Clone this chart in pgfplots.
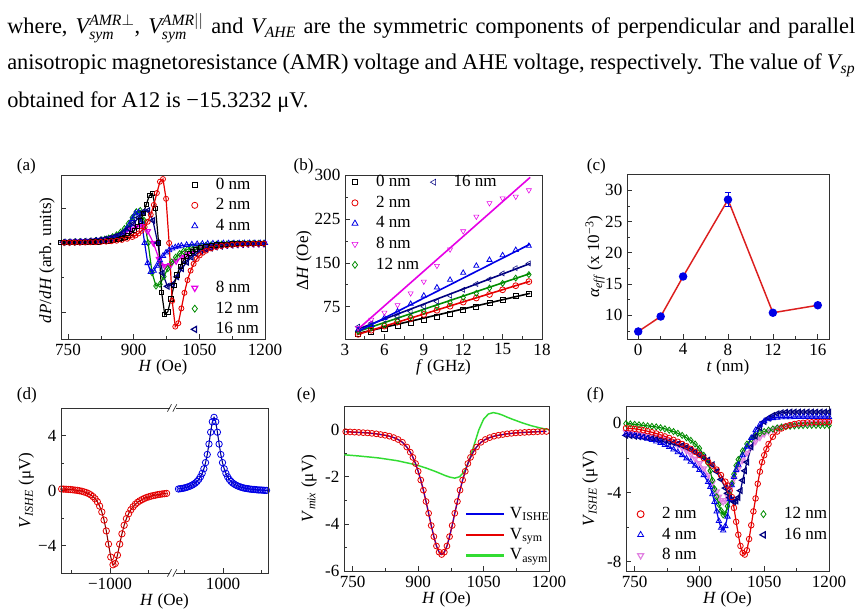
\documentclass[border=0pt]{standalone}
\usepackage{fontspec}
\setmainfont{Liberation Serif}
\newfontfamily\bodyfont{Liberation Serif}
\usepackage{pgfplots}
\usepackage{pgfplotstable}
\pgfplotsset{compat=1.18}
\definecolor{cred}{RGB}{230,0,0}
\definecolor{cblue}{RGB}{0,0,230}
\definecolor{cmag}{RGB}{230,0,230}
\definecolor{cgreen}{RGB}{0,140,0}
\definecolor{cnavy}{RGB}{0,0,128}
\definecolor{clgreen}{RGB}{50,220,50}
\definecolor{cviolet}{RGB}{225,130,225}
\definecolor{cframe}{RGB}{50,50,50}
\definecolor{cline}{RGB}{220,30,30}
\newcommand{\pf}{\fontsize{12.8}{15}\selectfont}

\pgfplotsset{
  panel/.style={
    scale only axis,
    axis line style={cframe, line width=0.6pt},
    every tick/.style={cframe, line width=0.5pt},
    tick align=inside,
    tick pos=left,
    major tick length=3.5pt,
    minor tick length=2pt,
    /pgf/number format/assume math mode=true,
    /pgf/number format/1000 sep={},
    tick label style={font=\pf},
    label style={font=\pf},
    xlabel style={at={(axis description cs:0.5,0)}, anchor=base, yshift=-24.5pt},
    legend style={font=\pf, draw=none, fill=none, inner sep=0pt, outer sep=0pt, anchor=north west, row sep=1pt,
      nodes={inner sep=1.5pt, text height=9pt, text depth=2.5pt},
      /tikz/every odd column/.append style={column sep=12pt}},
    legend cell align=left,
  },
}

% ---------- panel (d) data ----------
\pgfplotstableread{
H V
-1628 0.11
-1599 0.10
-1570 0.09
-1541 0.08
-1512 0.07
-1483 0.05
-1454 0.03
-1425 0.01
-1396 -0.02
-1367 -0.05
-1338 -0.10
-1309 -0.15
-1280 -0.22
-1251 -0.31
-1222 -0.44
-1193 -0.60
-1164 -0.82
-1135 -1.13
-1106 -1.56
-1077 -2.15
-1048 -2.94
-1019 -3.90
-990 -4.84
-961 -5.40
-932 -5.31
-903 -4.70
-874 -3.90
-845 -3.15
-816 -2.53
-787 -2.05
-758 -1.69
-729 -1.40
-700 -1.18
-671 -1.00
-642 -0.86
-613 -0.75
-584 -0.66
-555 -0.58
-526 -0.51
-497 -0.46
-468 -0.41
-439 -0.37
-410 -0.34
-381 -0.30
-352 -0.28
-323 -0.25
-294 -0.23
-265 -0.21
}\dred
\pgfplotstableread{
H V
421 0.11
443 0.13
465 0.15
487 0.17
509 0.20
531 0.24
553 0.28
575 0.33
597 0.39
619 0.46
641 0.55
663 0.66
685 0.81
707 1.00
729 1.25
751 1.58
773 2.03
795 2.62
817 3.38
839 4.24
861 5.00
883 5.32
905 5.00
927 4.24
949 3.38
971 2.62
993 2.03
1015 1.58
1037 1.25
1059 1.00
1081 0.81
1103 0.66
1125 0.55
1147 0.46
1169 0.39
1191 0.33
1213 0.28
1235 0.24
1257 0.20
1279 0.17
1301 0.15
1323 0.13
1345 0.11
1367 0.09
1389 0.08
1411 0.07
1433 0.06
1455 0.04
1477 0.04
1499 0.03
1521 0.02
1543 0.01
1565 0.01
1587 0.00
}\dblue
% ---------- panel (e) data ----------
\pgfplotstableread{
H V
734 -0.09
744 -0.10
754 -0.11
764 -0.12
774 -0.13
784 -0.14
794 -0.16
804 -0.18
814 -0.21
824 -0.24
834 -0.28
844 -0.34
854 -0.42
864 -0.54
874 -0.74
882 -0.96
888 -1.18
894 -1.44
900 -1.77
906 -2.14
912 -2.57
918 -3.05
924 -3.55
930 -4.07
936 -4.54
942 -4.94
948 -5.20
954 -5.30
960 -5.20
966 -4.94
972 -4.54
978 -4.07
984 -3.55
990 -3.05
996 -2.57
1002 -2.14
1008 -1.77
1014 -1.44
1020 -1.18
1026 -0.96
1034 -0.74
1044 -0.54
1054 -0.42
1064 -0.34
1074 -0.28
1084 -0.24
1094 -0.21
1104 -0.18
1114 -0.16
1124 -0.14
1134 -0.13
1144 -0.12
1154 -0.11
1164 -0.10
1174 -0.09
1184 -0.08
1194 -0.08
}\esym

\begin{document}
\begin{tikzpicture}
\fill[white] (0,0) rectangle (645pt,461.25pt);
\path[use as bounding box] (0,0) rectangle (645pt,461.25pt);

% ---------- body text ----------
\node[anchor=base west, inner sep=0pt] at (5.25pt,435.75pt) {\bodyfont\fontsize{16.8}{20}\selectfont\makebox[636pt][s]{where, $\mathit{V}_{\mathit{sym}}^{\mathit{AMR}\perp}$, $\mathit{V}_{\mathit{sym}}^{\mathit{AMR}||}$ and $\mathit{V}_{\mathit{AHE}}$ are the symmetric components of perpendicular and parallel}};
\node[anchor=base west, inner sep=0pt] at (5.25pt,408.75pt) {\bodyfont\fontsize{16.8}{20}\selectfont\makebox[636pt][s]{anisotropic magnetoresistance (AMR) voltage and AHE voltage, respectively. The value of $\mathit{V}_{\mathit{sp}}$}};
\node[anchor=base west, inner sep=0pt] at (5.25pt,380.25pt) {\bodyfont\fontsize{16.8}{20}\selectfont obtained for A12 is −15.3232 μV.};

% ---------- panel labels ----------
\node[anchor=base west, inner sep=0pt, font=\pf] at (12.5pt,333pt) {(a)};
\node[anchor=base west, inner sep=0pt, font=\pf] at (220pt,333pt) {(b)};
\node[anchor=base west, inner sep=0pt, font=\pf] at (440pt,333pt) {(c)};
\node[anchor=base west, inner sep=0pt, font=\pf] at (12.5pt,162pt) {(d)};
\node[anchor=base west, inner sep=0pt, font=\pf] at (222.5pt,162pt) {(e)};
\node[anchor=base west, inner sep=0pt, font=\pf] at (440pt,162pt) {(f)};

% ================= (a) =================
\begin{axis}[panel, at={(45.75pt,207pt)}, anchor=south west, width=153pt, height=123pt,
  xmin=734, xmax=1200, ymin=-2.77, ymax=1.96,
  xtick={750,900,1050,1200}, minor xtick={825,975,1125},
  ytick={-2,1}, yticklabels={}, minor ytick={-1,0},
  xlabel={\textit{H} (Oe)}, ylabel={\textit{dP}/\textit{dH} (arb. units)},
  ylabel style={at={(axis description cs:-0.069,0.48)}, anchor=center},
  legend style={at={(axis description cs:0.6,1)}},
  every axis plot/.append style={line width=0.9pt, mark options={solid, line width=0.6pt}},
]
\addplot[cmag, mark=triangle, mark size=2.3pt, mark options={rotate=180}, forget plot] coordinates {(741,0.023) (753,0.027) (765,0.032) (777,0.038) (789,0.046) (802,0.058) (815,0.073) (828,0.094) (841,0.123) (854,0.163) (867,0.219) (880,0.294) (893,0.385) (906,0.473) (919,0.493) (932,0.341) (945,0) (958,-0.464) (971,-0.670) (984,-0.643) (997,-0.524) (1010,-0.399) (1023,-0.297) (1036,-0.222) (1049,-0.167) (1062,-0.128) (1075,-0.099) (1088,-0.078) (1101,-0.063) (1113,-0.052) (1125,-0.043) (1137,-0.036) (1149,-0.031) (1161,-0.026) (1173,-0.023) (1185,-0.020) (1197,-0.017)};
\addplot[cgreen, mark=diamond, mark size=2.3pt, forget plot] coordinates {(741,0.018) (753,0.022) (765,0.026) (777,0.032) (789,0.041) (801,0.051) (813,0.066) (825,0.087) (834,0.109) (843,0.139) (852,0.179) (861,0.234) (870,0.310) (879,0.415) (888,0.558) (897,0.732) (906,0.898) (915,0.936) (924,0.648) (933,0) (942,-0.859) (951,-1.241) (960,-1.191) (969,-0.970) (978,-0.740) (987,-0.551) (996,-0.411) (1005,-0.310) (1014,-0.237) (1023,-0.184) (1032,-0.145) (1041,-0.116) (1053,-0.088) (1065,-0.068) (1077,-0.054) (1089,-0.043) (1101,-0.035) (1113,-0.029) (1125,-0.024) (1137,-0.020) (1149,-0.017) (1161,-0.014) (1173,-0.012) (1185,-0.011) (1197,-0.010)};
\addplot[cblue, mark=triangle, mark size=2.3pt, forget plot] coordinates {(733,0.008) (745,0.010) (757,0.012) (769,0.015) (781,0.019) (793,0.024) (805,0.032) (817,0.042) (829,0.058) (841,0.083) (848,0.104) (855,0.131) (862,0.169) (869,0.221) (876,0.293) (883,0.393) (890,0.528) (897,0.693) (904,0.851) (911,0.887) (918,0.614) (925,0) (932,-0.580) (939,-0.837) (946,-0.803) (953,-0.655) (960,-0.499) (967,-0.371) (974,-0.277) (981,-0.209) (988,-0.160) (995,-0.124) (1002,-0.098) (1009,-0.078) (1021,-0.055) (1033,-0.040) (1045,-0.030) (1057,-0.023) (1069,-0.018) (1081,-0.014) (1093,-0.011) (1105,-0.009) (1117,-0.008) (1129,-0.007) (1141,-0.006) (1153,-0.005) (1165,-0.004) (1177,-0.004) (1189,-0.003) (1200,-0.003)};
\addplot[cnavy, mark=triangle, mark size=2.3pt, mark options={rotate=90}, forget plot] coordinates {(739,0.023) (751,0.027) (763,0.032) (775,0.038) (787,0.046) (799,0.055) (811,0.070) (823,0.087) (834,0.109) (845,0.139) (856,0.179) (867,0.234) (878,0.310) (889,0.415) (900,0.558) (911,0.732) (922,0.898) (933,0.936) (944,0.648) (955,0) (966,-0.866) (977,-1.251) (988,-1.200) (999,-0.978) (1010,-0.745) (1021,-0.555) (1032,-0.414) (1043,-0.312) (1054,-0.239) (1065,-0.185) (1076,-0.146) (1087,-0.117) (1099,-0.094) (1111,-0.074) (1123,-0.062) (1135,-0.051) (1147,-0.043) (1159,-0.037) (1171,-0.031) (1183,-0.027) (1195,-0.023)};
\addplot[black, mark=square, mark size=1.6pt, forget plot] coordinates {(734,0.009) (746,0.010) (758,0.012) (770,0.014) (782,0.017) (794,0.021) (806,0.027) (818,0.034) (830,0.044) (842,0.057) (854,0.078) (866,0.109) (873,0.133) (880,0.167) (887,0.212) (894,0.273) (901,0.357) (908,0.473) (915,0.634) (922,0.851) (929,1.117) (936,1.370) (943,1.428) (950,0.989) (957,0) (964,-1.432) (971,-2.069) (978,-1.985) (985,-1.617) (992,-1.233) (999,-0.918) (1006,-0.685) (1013,-0.517) (1020,-0.395) (1027,-0.307) (1034,-0.242) (1041,-0.193) (1053,-0.136) (1065,-0.099) (1077,-0.074) (1089,-0.057) (1101,-0.044) (1113,-0.035) (1125,-0.028) (1137,-0.023) (1149,-0.019) (1161,-0.016) (1173,-0.014) (1185,-0.012) (1197,-0.010)};
\addplot[cred, mark=o, mark size=1.9pt, forget plot] coordinates {(741,0.009) (753,0.010) (765,0.012) (777,0.014) (789,0.017) (801,0.021) (813,0.025) (825,0.031) (837,0.039) (849,0.050) (861,0.065) (873,0.088) (885,0.121) (897,0.172) (904,0.215) (911,0.273) (918,0.352) (925,0.460) (932,0.610) (939,0.817) (946,1.098) (953,1.440) (960,1.767) (967,1.842) (974,1.275) (981,0) (988,-1.671) (995,-2.413) (1002,-2.315) (1009,-1.887) (1016,-1.438) (1023,-1.071) (1030,-0.799) (1037,-0.603) (1044,-0.461) (1051,-0.358) (1058,-0.282) (1065,-0.225) (1077,-0.159) (1089,-0.115) (1101,-0.086) (1113,-0.066) (1125,-0.051) (1137,-0.041) (1149,-0.033) (1161,-0.027) (1173,-0.022) (1185,-0.019) (1197,-0.016)};
\addlegendimage{only marks, black, mark=square, mark size=2pt}
\addlegendentry{0 nm}
\addlegendimage{only marks, cred, mark=o, mark size=2.3pt}
\addlegendentry{2 nm}
\addlegendimage{only marks, cblue, mark=triangle, mark size=2.6pt}
\addlegendentry{4 nm}
\addlegendimage{empty legend}
\addlegendentry{}
\addlegendimage{empty legend}
\addlegendentry{}
\addlegendimage{only marks, cmag, mark=triangle, mark size=2.6pt, mark options={rotate=180}}
\addlegendentry{8 nm}
\addlegendimage{only marks, cgreen, mark=diamond, mark size=2.6pt}
\addlegendentry{12 nm}
\addlegendimage{only marks, cnavy, mark=triangle, mark size=2.6pt, mark options={rotate=90}}
\addlegendentry{16 nm}
\end{axis}

% ================= (b) =================
\begin{axis}[panel, at={(258.75pt,207pt)}, anchor=south west, width=147.75pt, height=123pt,
  xmin=3, xmax=18, ymin=20, ymax=300,
  xtick={3,6,9,12,15,18}, ytick={75,150,225,300}, minor tick num=1,
  xlabel={\textit{f} (GHz)}, ylabel={Δ\textit{H} (Oe)},
  ylabel style={at={(axis description cs:-0.208,0.48)}, anchor=center},
  legend columns=2,
  legend style={at={(axis description cs:0.035,1.015)}, /tikz/every even column/.append style={column sep=1pt}},
  every axis plot/.append style={mark size=2.2pt, mark options={solid, line width=0.6pt}},
]
\addplot[black, only marks, mark=square, mark size=1.9pt, forget plot] coordinates {(4,29) (5,33) (6,37) (7,43) (8,47) (9,53) (10,58) (11,63) (12,70) (13,75) (14,81) (15,86) (16,93) (17,97)};
\addplot[black, line width=1.2pt, no marks, forget plot] coordinates {(3.9,29) (17.1,98)};
\addplot[cred, only marks, mark=o, forget plot] coordinates {(4,28) (5,35) (6,42) (7,49) (8,55) (9,62) (10,69) (11,76) (12,83) (13,90) (14,96) (15,104) (16,111) (17,118)};
\addplot[cred, line width=1.2pt, no marks, forget plot] coordinates {(3.9,27.3) (17.1,118.7)};
\addplot[cgreen, only marks, mark=diamond, forget plot] coordinates {(4,33) (5,39) (6,44) (7,51) (8,58) (9,67) (10,75) (11,82) (12,91) (13,98) (14,107) (15,115) (16,124) (17,130)};
\addplot[cgreen, line width=1.2pt, no marks, forget plot] coordinates {(3.9,32.2) (17.1,131.8)};
\addplot[cnavy, only marks, mark=triangle, mark options={rotate=90}, forget plot] coordinates {(4,41) (5,47) (6,53) (7,58) (8,67) (9,75) (10,84) (11,94) (12,104) (13,114) (14,122) (15,132) (16,141) (17,149)};
\addplot[cnavy, line width=1.2pt, no marks, forget plot] coordinates {(3.9,36.1) (17.1,148.9)};
\addplot[cblue, only marks, mark=triangle, forget plot] coordinates {(4,36) (5,44) (6,56) (7,67) (8,80) (9,94) (10,108) (11,121) (12,133) (13,145) (14,155) (15,163) (16,172) (17,179)};
\addplot[cblue, line width=1.2pt, no marks, forget plot] coordinates {(3.9,31.9) (17.1,182)};
\addplot[cmag, only marks, mark=triangle, mark options={rotate=180}, forget plot] coordinates {(4,39) (5,53) (6,65) (7,78) (8,98) (9,118) (10,145) (11,173) (12,204) (13,229) (14,252) (15,260) (16,263) (17,274)};
\addplot[cmag, line width=1.2pt, no marks, forget plot] coordinates {(3.9,35) (17.1,296)};
\addlegendimage{only marks, black, mark=square, mark size=2pt}
\addlegendentry{0 nm}
\addlegendimage{only marks, cnavy, mark=triangle, mark size=2.6pt, mark options={rotate=90}}
\addlegendentry{16 nm}
\addlegendimage{only marks, cred, mark=o, mark size=2.3pt}
\addlegendentry{2 nm}
\addlegendimage{empty legend}
\addlegendentry{}
\addlegendimage{only marks, cblue, mark=triangle, mark size=2.6pt}
\addlegendentry{4 nm}
\addlegendimage{empty legend}
\addlegendentry{}
\addlegendimage{only marks, cmag, mark=triangle, mark size=2.6pt, mark options={rotate=180}}
\addlegendentry{8 nm}
\addlegendimage{empty legend}
\addlegendentry{}
\addlegendimage{only marks, cgreen, mark=diamond, mark size=2.6pt}
\addlegendentry{12 nm}
\addlegendimage{empty legend}
\addlegendentry{}
\end{axis}

% ================= (c) =================
\begin{axis}[panel, at={(470.25pt,207pt)}, anchor=south west, width=151.5pt, height=123.75pt,
  xmin=-1, xmax=17, ymin=6.2, ymax=32.6,
  xtick={0,4,8,12,16}, minor xtick={2,6,10,14}, ytick={10,15,20,25,30}, minor ytick={7.5,12.5,17.5,22.5,27.5,32.5},
  xlabel={\textit{t} (nm)}, ylabel={\textit{α}\textsubscript{\textit{eff}} (x 10\textsuperscript{−3})},
  ylabel style={at={(axis description cs:-0.158,0.5)}, anchor=center},
]
\addplot[cline, line width=1.1pt, mark=*, mark size=2.6pt, mark options={draw=cblue, fill=cblue},
  error bars/.cd, y dir=both, y explicit, error bar style={cblue, line width=0.6pt}, error mark options={cblue, rotate=90, mark size=2.5pt, line width=0.6pt}]
  coordinates {(0,7.4) +- (0,0) (2,9.8) +- (0,0) (4,16.2) +- (0,0) (8,28.5) +- (0,1.15) (12,10.4) +- (0,0) (16,11.6) +- (0,0)};
\end{axis}

% ================= (d) =================
\begin{axis}[panel, at={(45.75pt,31.5pt)}, anchor=south west, width=84pt, height=123.75pt,
  axis line style={draw=none},
  xmin=-1636, xmax=-182, ymin=-6, ymax=6,
  xtick={-1000}, xticklabels={−1000}, minor xtick={-1500,-500},
  ytick={-4,0,4}, yticklabels={−4,0,4}, minor ytick={-2,2},
  ylabel={\textit{V}\textsubscript{\textit{ISHE}} (μV)},
  ylabel style={at={(axis description cs:-0.31,0.5)}, anchor=center},
]
\addplot[cred, only marks, mark=o, mark size=2.4pt, mark options={line width=0.6pt}] table {\dred};
\addplot[red!55!black, line width=0.8pt, no marks] table {\dred};
\end{axis}
\begin{axis}[panel, at={(129.75pt,31.5pt)}, anchor=south west, width=71.25pt, height=123.75pt,
  axis line style={draw=none},
  xmin=350, xmax=1584, ymin=-6, ymax=6,
  xtick={1000}, xticklabels={1000}, minor xtick={500,1500},
  ytick=\empty,
]
\addplot[cblue, only marks, mark=o, mark size=2.4pt, mark options={line width=0.6pt}] table {\dblue};
\addplot[blue!55!black, line width=0.8pt, no marks] table {\dblue};
\end{axis}
\draw[cframe, line width=0.6pt] (45.75pt,31.5pt) rectangle (201pt,155.25pt);
\fill[white] (127.6pt,153.5pt) rectangle (131.9pt,157pt);
\fill[white] (127.6pt,29.75pt) rectangle (131.9pt,33.25pt);
\draw[cframe, line width=0.5pt] (125.6pt,152.5pt) -- (128.6pt,158pt) (129.6pt,152.5pt) -- (132.6pt,158pt);
\draw[cframe, line width=0.5pt] (125.6pt,28.75pt) -- (128.6pt,34.25pt) (129.6pt,28.75pt) -- (132.6pt,34.25pt);
\node[anchor=base, font=\pf, inner sep=0pt] at (123.4pt,7.5pt) {\textit{H} (Oe)};

% ================= (e) =================
\begin{axis}[panel, at={(258pt,33pt)}, anchor=south west, width=153.75pt, height=123.75pt,
  xmin=730, xmax=1200, ymin=-6, ymax=1,
  xtick={750,900,1050,1200}, minor xtick={825,975,1125},
  ytick={-6,-4,-2,0}, minor ytick={-5,-3,-1},
  xlabel={\textit{H} (Oe)}, ylabel={\textit{V}\textsubscript{\textit{mix}} (μV)},
  ylabel style={at={(axis description cs:-0.171,0.5)}, anchor=center},
  legend style={at={(axis description cs:0.59,0.403)}, /tikz/every odd column/.append style={column sep=2pt}},
  legend image code/.code={\draw[#1] (0cm,0cm) -- (1cm,0cm);},
]
\addplot[clgreen, line width=1.1pt, no marks, forget plot] coordinates {(731,-1.07) (764,-1.12) (808,-1.20) (852,-1.32) (896,-1.50) (918,-1.63) (940,-1.78) (962,-1.95) (973,-2.02) (984,-2.06) (995,-2.00) (1006,-1.78) (1017,-1.32) (1028,-0.67) (1039,-0.02) (1050,0.44) (1061,0.66) (1072,0.72) (1083,0.68) (1094,0.61) (1105,0.52) (1116,0.44) (1138,0.29) (1160,0.16) (1182,0.06) (1204,-0.02)};
\addplot[cred, line width=1.1pt, mark=o, mark size=2.2pt, mark options={line width=0.6pt}, forget plot] table {\esym};
\addplot[cblue, line width=0.45pt, no marks, forget plot] table {\esym};
\addlegendimage{cblue, line width=1.8pt}
\addlegendentry{V\textsubscript{ISHE}}
\addlegendimage{cred, line width=1.8pt}
\addlegendentry{V\textsubscript{sym}}
\addlegendimage{clgreen, line width=1.8pt}
\addlegendentry{V\textsubscript{asym}}
\end{axis}

% ================= (f) =================
\begin{axis}[panel, at={(469.5pt,33pt)}, anchor=south west, width=152.25pt, height=123.75pt,
  xmin=730, xmax=1200, ymin=-8.55, ymax=1,
  xtick={750,900,1050,1200}, minor xtick={825,975,1125},
  ytick={-8,-4,0}, minor ytick={-6,-2},
  xlabel={\textit{H} (Oe)}, ylabel={\textit{V}\textsubscript{\textit{ISHE}} (μV)},
  ylabel style={at={(axis description cs:-0.177,0.5)}, anchor=center},
  legend columns=2,
  legend style={at={(axis description cs:0.055,0.403)}, /tikz/every even column/.append style={column sep=40pt}},
  every axis plot/.append style={line width=0.9pt, mark options={solid, line width=0.6pt}},
]
\addplot[cviolet, mark=triangle, mark size=2.3pt, mark options={rotate=180}, forget plot] coordinates {(730,-0.50) (740,-0.54) (750,-0.58) (760,-0.62) (770,-0.66) (780,-0.70) (790,-0.75) (800,-0.78) (810,-0.85) (820,-0.93) (830,-1.03) (840,-1.14) (850,-1.27) (860,-1.42) (870,-1.60) (880,-1.82) (890,-2.05) (900,-2.32) (910,-2.62) (920,-3.00) (930,-3.45) (940,-3.95) (945,-4.25) (950,-4.45) (955,-4.55) (960,-4.45) (965,-4.20) (970,-3.85) (975,-3.55) (980,-3.20) (990,-2.63) (1000,-2.15) (1010,-1.72) (1020,-1.35) (1030,-1.05) (1040,-0.82) (1050,-0.62) (1060,-0.48) (1070,-0.37) (1080,-0.28) (1090,-0.21) (1100,-0.16) (1110,-0.12) (1120,-0.08) (1130,-0.05) (1140,-0.02) (1150,0.00) (1160,0.02) (1170,0.04) (1180,0.05) (1190,0.06) (1200,0.07)};
\addplot[cgreen, mark=diamond, mark size=2.3pt, forget plot] coordinates {(730,-0.02) (740,-0.04) (750,-0.06) (760,-0.09) (770,-0.12) (780,-0.15) (790,-0.18) (800,-0.21) (810,-0.26) (820,-0.32) (830,-0.40) (840,-0.48) (850,-0.58) (860,-0.70) (870,-0.84) (880,-0.99) (890,-1.20) (900,-1.45) (910,-1.85) (920,-2.30) (925,-2.75) (930,-3.30) (935,-3.80) (940,-4.25) (945,-4.70) (950,-5.05) (955,-5.30) (960,-5.25) (965,-4.80) (970,-4.10) (975,-3.49) (980,-2.95) (985,-2.45) (990,-2.10) (1000,-1.60) (1010,-1.20) (1020,-0.92) (1030,-0.72) (1040,-0.58) (1050,-0.48) (1060,-0.40) (1070,-0.33) (1080,-0.27) (1090,-0.22) (1100,-0.19) (1110,-0.17) (1120,-0.15) (1130,-0.14) (1140,-0.13) (1150,-0.12) (1160,-0.12) (1170,-0.12) (1180,-0.12) (1190,-0.12) (1200,-0.12)};
\addplot[cnavy, mark=triangle, mark size=2.3pt, mark options={rotate=90}, forget plot] coordinates {(730,-0.70) (740,-0.72) (750,-0.75) (760,-0.78) (770,-0.81) (780,-0.85) (790,-0.88) (800,-0.92) (810,-0.96) (820,-1.01) (830,-1.07) (840,-1.13) (850,-1.20) (860,-1.29) (870,-1.40) (880,-1.52) (890,-1.66) (900,-1.82) (910,-1.98) (920,-2.13) (930,-2.40) (940,-2.80) (950,-3.25) (960,-3.75) (965,-4.05) (970,-4.30) (975,-4.45) (980,-4.55) (985,-4.50) (990,-4.30) (995,-3.90) (1000,-3.30) (1005,-2.75) (1010,-2.25) (1020,-1.37) (1030,-0.75) (1040,-0.25) (1050,0.10) (1060,0.30) (1070,0.45) (1080,0.55) (1090,0.61) (1100,0.64) (1110,0.65) (1120,0.65) (1130,0.65) (1140,0.65) (1150,0.65) (1160,0.65) (1170,0.65) (1180,0.65) (1190,0.65) (1200,0.65)};
\addplot[cblue, mark=triangle, mark size=2.3pt, forget plot] coordinates {(730,-0.60) (740,-0.65) (750,-0.70) (760,-0.76) (770,-0.82) (780,-0.89) (790,-0.97) (800,-1.05) (810,-1.14) (820,-1.25) (830,-1.37) (840,-1.51) (850,-1.67) (860,-1.84) (870,-2.03) (880,-2.22) (890,-2.45) (900,-2.70) (910,-3.00) (920,-3.40) (925,-3.69) (930,-4.10) (935,-4.55) (940,-5.10) (945,-5.65) (950,-6.05) (955,-6.20) (960,-5.95) (965,-5.40) (970,-4.40) (975,-3.59) (980,-3.10) (985,-2.70) (990,-2.40) (1000,-1.85) (1010,-1.35) (1020,-0.85) (1030,-0.40) (1040,-0.08) (1050,0.12) (1060,0.24) (1070,0.30) (1080,0.33) (1090,0.35) (1100,0.35) (1110,0.35) (1120,0.36) (1130,0.36) (1140,0.36) (1150,0.36) (1160,0.36) (1170,0.36) (1180,0.36) (1190,0.36) (1200,0.36)};
\addplot[cred, mark=o, mark size=2.1pt, forget plot] coordinates {(730,-0.28) (740,-0.30) (750,-0.32) (760,-0.36) (770,-0.40) (780,-0.46) (790,-0.52) (800,-0.59) (810,-0.67) (820,-0.76) (830,-0.85) (840,-0.96) (850,-1.07) (860,-1.20) (870,-1.33) (880,-1.48) (890,-1.65) (900,-1.83) (910,-2.02) (920,-2.23) (930,-2.45) (940,-2.68) (950,-3.00) (960,-3.38) (965,-3.60) (970,-3.90) (975,-4.27) (980,-4.90) (985,-5.70) (990,-6.45) (995,-7.10) (1000,-7.50) (1005,-7.60) (1010,-7.35) (1015,-6.70) (1020,-5.90) (1025,-5.10) (1030,-4.35) (1035,-3.50) (1040,-2.80) (1045,-2.25) (1050,-1.85) (1055,-1.50) (1060,-1.20) (1070,-0.78) (1080,-0.48) (1090,-0.30) (1100,-0.18) (1110,-0.10) (1120,-0.04) (1130,0.00) (1140,0.03) (1150,0.05) (1160,0.06) (1170,0.07) (1180,0.08) (1190,0.08) (1200,0.08)};
\addlegendimage{only marks, cred, mark=o, mark size=2.6pt, mark options={line width=0.7pt}}
\addlegendentry{2 nm}
\addlegendimage{only marks, cgreen, mark=diamond, mark size=2.6pt}
\addlegendentry{12 nm}
\addlegendimage{only marks, cblue, mark=triangle, mark size=2.6pt}
\addlegendentry{4 nm}
\addlegendimage{only marks, cnavy, mark=triangle, mark size=2.6pt, mark options={rotate=90}}
\addlegendentry{16 nm}
\addlegendimage{only marks, cviolet, mark=triangle, mark size=2.6pt, mark options={rotate=180}}
\addlegendentry{8 nm}
\addlegendimage{empty legend}
\addlegendentry{}
\end{axis}
\end{tikzpicture}
\end{document}
